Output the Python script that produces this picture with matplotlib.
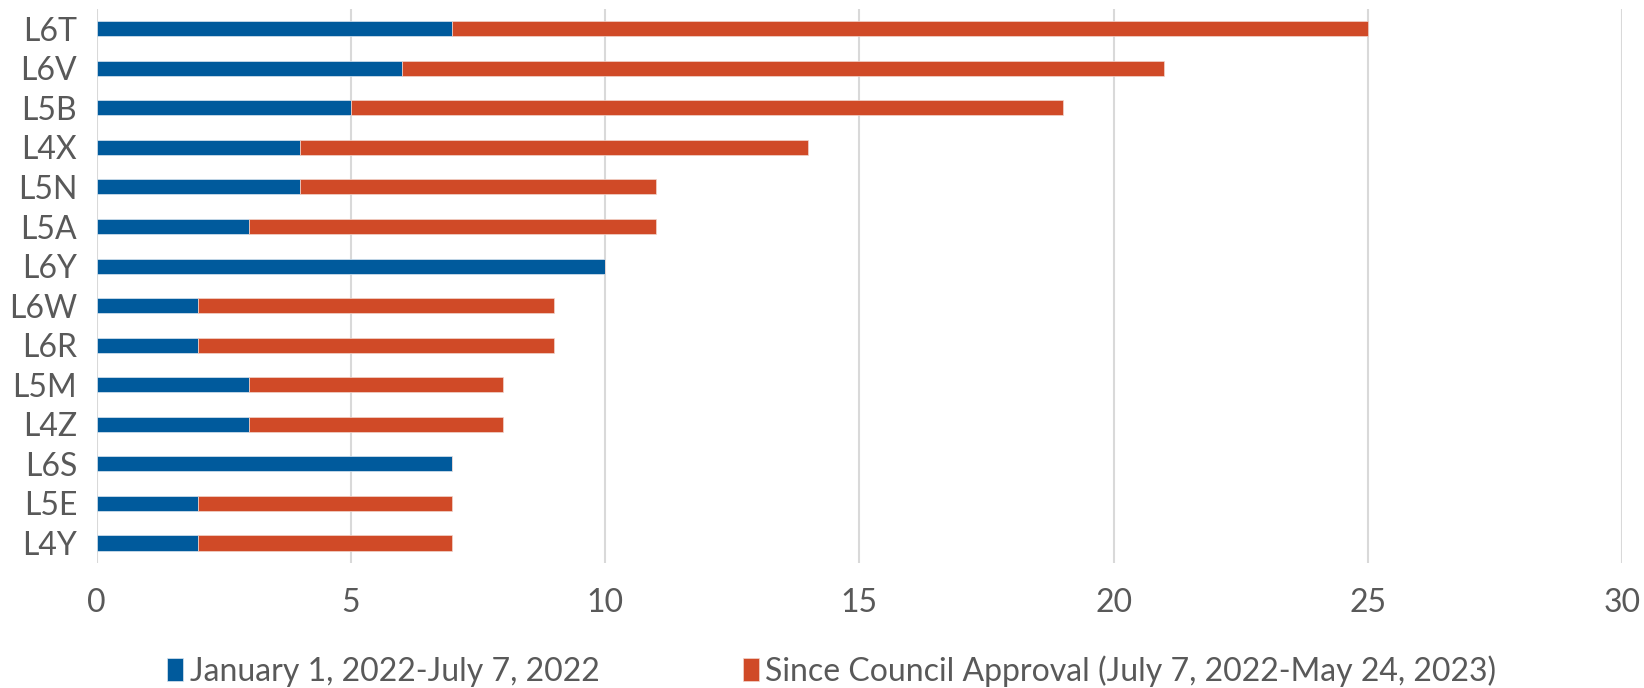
import matplotlib
matplotlib.use('Agg')
import matplotlib.pyplot as plt
import numpy as np

plt.rcParams['font.family'] = ['Lato', 'DejaVu Sans']

zones = ['L6T', 'L6V', 'L5B', 'L4X', 'L5N', 'L5A', 'L6Y', 'L6W', 'L6R', 'L5M', 'L4Z', 'L6S', 'L5E', 'L4Y']
before = [7, 6, 5, 4, 4, 3, 10, 2, 2, 3, 3, 7, 2, 2]
since = [18, 15, 14, 10, 7, 8, 0, 7, 7, 5, 5, 0, 5, 5]
labels = ['January 1, 2022-July 7, 2022', 'Since Council Approval (July 7, 2022-May 24, 2023)']

blue = '#005A9C'
orange = '#D04A27'
grey = '#595959'

fig = plt.figure(figsize=(16.44, 6.88), dpi=100)
ax = fig.add_axes([0.0587, 0.182, 0.928, 0.805])

y = np.arange(len(zones))
h = 0.38
ax.barh(y, before, height=h, color=blue, edgecolor='#dbe6f0', linewidth=0.5, label=labels[0], zorder=3)
ax.barh(y, since, left=before, height=h, color=orange, edgecolor='#f2d5cc', linewidth=0.5, label=labels[1], zorder=3)

ax.set_ylim(len(zones) - 0.5, -0.5)
ax.set_xlim(0, 30)
ax.set_xticks([0, 5, 10, 15, 20, 25, 30])
ax.set_yticks(y)
ax.set_yticklabels(zones)
ax.grid(axis='x', color='#d9d9d9', linewidth=1.5, zorder=0)
for s in ax.spines.values():
    s.set_visible(False)
ax.tick_params(axis='both', length=0, labelsize=23, labelcolor=grey)
ax.tick_params(axis='x', pad=18)
ax.tick_params(axis='y', pad=14)

leg = fig.legend(loc='center', bbox_to_anchor=(0.506, 0.025), ncol=2, frameon=False,
                 fontsize=23, handlelength=0.5, handleheight=0.7, handletextpad=0.2,
                 columnspacing=4.5, labelcolor=grey)

fig.savefig('out.png', dpi=100)
